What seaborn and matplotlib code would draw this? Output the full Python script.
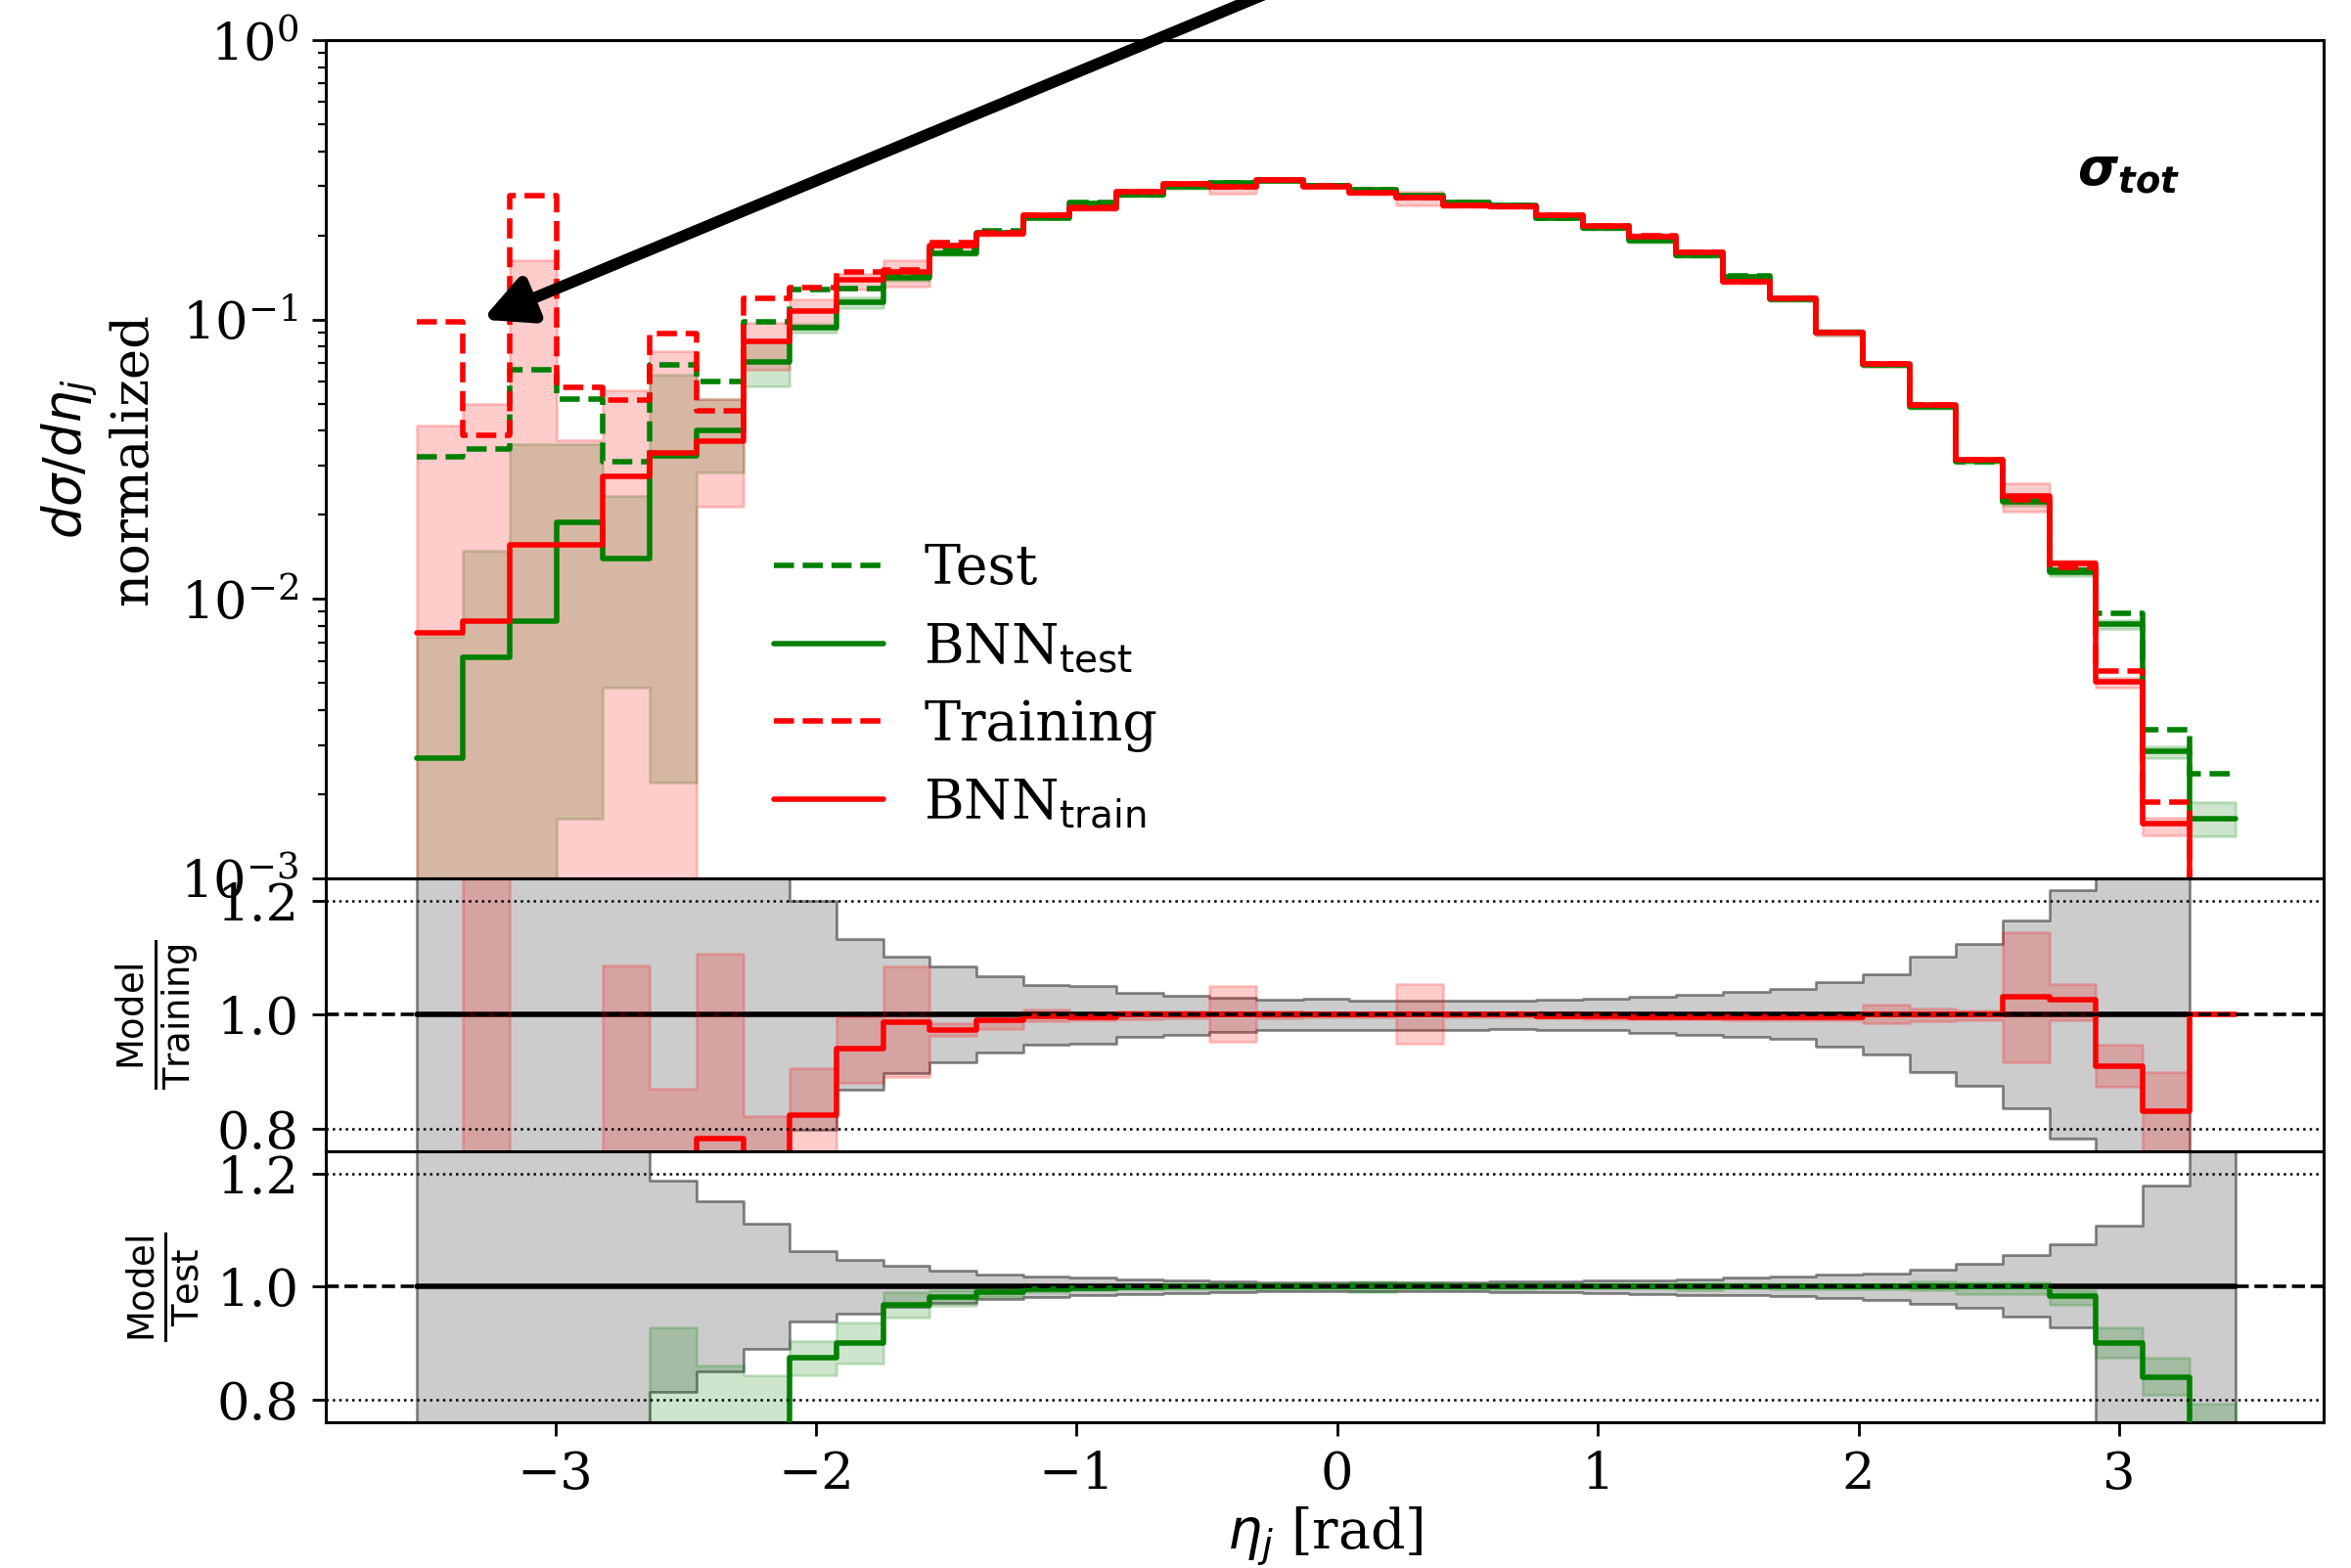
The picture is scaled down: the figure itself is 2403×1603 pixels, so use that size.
import numpy as np
import pandas as pd
import seaborn as sns
import matplotlib.pyplot as plt
from matplotlib.lines import Line2D

# eta_j binning: 39 bins
eta_lo, eta_hi, n_bins = -3.532, 3.448, 39
edges = np.linspace(eta_lo, eta_hi, n_bins + 1)

# ---- top panel: normalized distributions (1e-5 = empty / below axis)
test = [0.0323, 0.0345, 0.066, 0.052, 0.031, 0.069, 0.060, 0.098,
        0.128, 0.129, 0.144, 0.178, 0.208, 0.233, 0.262, 0.281,
        0.300, 0.308, 0.315, 0.302, 0.291, 0.278, 0.262, 0.257,
        0.231, 0.213, 0.193, 0.170, 0.143, 0.119, 0.090, 0.069,
        0.049, 0.031, 0.0224, 0.0127, 0.0089, 0.0034, 0.00237]
bnn_test = [0.0027, 0.0062, 0.0083, 0.0188, 0.0140, 0.0325, 0.040, 0.0708,
            0.0933, 0.115, 0.1415, 0.173, 0.205, 0.231, 0.261, 0.279,
            0.298, 0.308, 0.314, 0.302, 0.291, 0.277, 0.262, 0.256,
            0.231, 0.213, 0.192, 0.170, 0.1427, 0.1185, 0.090, 0.069,
            0.0488, 0.0312, 0.0222, 0.0125, 0.0081, 0.00286, 0.00164]
bnn_test_lo = [1e-5, 1e-5, 1e-5, 0.00164, 0.0048, 0.0022, 0.0284, 0.0578,
               0.090, 0.110, 0.138, 0.170, 0.202, 0.228, 0.257, 0.275,
               0.294, 0.304, 0.310, 0.298, 0.287, 0.273, 0.258, 0.252,
               0.228, 0.210, 0.189, 0.167, 0.140, 0.116, 0.088, 0.068,
               0.0478, 0.0305, 0.0215, 0.0121, 0.0078, 0.0027, 0.00141]
bnn_test_hi = [0.0073, 0.0149, 0.0357, 0.0358, 0.0234, 0.0636, 0.052, 0.0833,
               0.0966, 0.120, 0.145, 0.176, 0.208, 0.234, 0.265, 0.283,
               0.302, 0.312, 0.318, 0.306, 0.295, 0.281, 0.266, 0.260,
               0.234, 0.216, 0.195, 0.173, 0.145, 0.121, 0.092, 0.070,
               0.0498, 0.0319, 0.0229, 0.0129, 0.0084, 0.00298, 0.00188]
training = [0.098, 0.0384, 0.277, 0.057, 0.0513, 0.089, 0.047, 0.1195,
            0.1305, 0.148, 0.150, 0.189, 0.2046, 0.237, 0.2515, 0.286,
            0.306, 0.298, 0.317, 0.300, 0.284, 0.2725, 0.257, 0.255,
            0.237, 0.216, 0.199, 0.174, 0.137, 0.1195, 0.090, 0.0692,
            0.0495, 0.0315, 0.0226, 0.0130, 0.00554, 0.00188, 1e-5]
bnn_train = [0.00755, 0.0083, 0.0156, 0.0156, 0.0274, 0.0334, 0.0368, 0.0832,
             0.1074, 0.139, 0.148, 0.184, 0.2028, 0.237, 0.250, 0.286,
             0.306, 0.298, 0.317, 0.2995, 0.284, 0.2725, 0.257, 0.255,
             0.236, 0.2155, 0.198, 0.174, 0.1367, 0.119, 0.0897, 0.0692,
             0.0495, 0.0315, 0.0233, 0.01335, 0.00504, 0.00157, 1e-5]
bnn_train_lo = [1e-5, 1e-5, 1e-5, 1e-5, 1e-5, 1e-5, 0.0214, 0.0662,
                0.095, 0.128, 0.131, 0.179, 0.199, 0.233, 0.247, 0.281,
                0.301, 0.2825, 0.312, 0.295, 0.279, 0.257, 0.253, 0.251,
                0.232, 0.212, 0.195, 0.171, 0.134, 0.117, 0.088, 0.068,
                0.0487, 0.031, 0.0206, 0.0129, 0.0048, 0.00142, 1e-5]
bnn_train_hi = [0.0419, 0.0497, 0.163, 0.0371, 0.0559, 0.0771, 0.052, 0.0977,
                0.118, 0.146, 0.163, 0.187, 0.207, 0.241, 0.255, 0.291,
                0.311, 0.312, 0.322, 0.304, 0.289, 0.286, 0.261, 0.259,
                0.240, 0.219, 0.202, 0.177, 0.139, 0.121, 0.0915, 0.0705,
                0.0503, 0.032, 0.0259, 0.0137, 0.0052, 0.00165, 1e-5]

# ---- middle panel: Model / Training (0.5 / 1.5 = outside the panel)
ratio_train = [0.5, 0.5, 0.5, 0.5, 0.5, 0.5, 0.7825, 0.5,
               0.824, 0.940, 0.9875, 0.974, 0.991, 0.998, 0.995, 1.0,
               1.0, 1.0, 1.0, 1.0, 1.0, 1.0, 1.0, 1.0,
               0.998, 0.998, 0.996, 0.996, 0.996, 0.996, 0.996, 1.0,
               1.0, 1.0, 1.031, 1.026, 0.909, 0.830, 1.0]
ratio_train_lo = [0.5, 0.5, 0.5, 0.5, 0.5, 0.5, 0.5, 0.5,
                  0.5, 0.881, 0.890, 0.963, 0.975, 0.989, 0.990, 0.993,
                  0.994, 0.952, 0.994, 0.995, 0.995, 0.949, 0.995, 0.995,
                  0.994, 0.993, 0.992, 0.992, 0.991, 0.990, 0.990, 0.985,
                  0.988, 0.990, 0.916, 0.990, 0.873, 0.5, 0.5]
ratio_train_hi = [0.5, 1.5, 0.5, 0.5, 1.087, 0.8695, 1.107, 0.8214,
                  0.906, 0.997, 1.085, 0.9857, 0.989, 1.010, 1.003, 1.006,
                  1.006, 1.0506, 1.006, 1.005, 1.005, 1.054, 1.005, 1.005,
                  1.004, 1.004, 1.002, 1.002, 1.002, 1.001, 1.001, 1.018,
                  1.011, 1.007, 1.146, 1.054, 0.947, 0.899, 0.5]
stat_train_lo = [0.5, 0.5, 0.5, 0.5, 0.5, 0.5, 0.5, 0.5,
                 0.798, 0.868, 0.898, 0.916, 0.933, 0.947, 0.950, 0.9616,
                 0.9645, 0.970, 0.974, 0.974, 0.974, 0.974, 0.974, 0.975,
                 0.974, 0.973, 0.9685, 0.9645, 0.9616, 0.957, 0.944, 0.930,
                 0.899, 0.875, 0.835, 0.7825, 0.5, 0.5, 0.5]
stat_train_hi = [1.5, 1.5, 1.5, 1.5, 1.5, 1.5, 1.5, 1.5,
                 1.201, 1.134, 1.102, 1.085, 1.068, 1.053, 1.0506, 1.038,
                 1.034, 1.0305, 1.026, 1.0275, 1.025, 1.025, 1.025, 1.025,
                 1.026, 1.029, 1.0316, 1.036, 1.040, 1.046, 1.0575, 1.072,
                 1.1015, 1.125, 1.166, 1.219, 1.5, 1.5, 0.5]

# ---- bottom panel: Model / Test
ratio_test = [0.5, 0.5, 0.5, 0.5, 0.5, 0.5, 0.5, 0.5,
              0.874, 0.9005, 0.9678, 0.982, 0.9907, 0.995, 0.997, 0.999,
              1.0, 1.0, 1.0, 1.0, 1.0, 1.0, 1.0, 1.0,
              1.0, 1.0, 1.0, 1.0, 1.0, 1.0, 1.0, 1.0,
              1.0, 1.0, 1.0, 0.983, 0.901, 0.840, 0.5]
ratio_test_lo = [0.5, 0.5, 0.5, 0.5, 0.5, 0.5, 0.5, 0.5,
                 0.843, 0.864, 0.945, 0.966, 0.982, 0.990, 0.993, 0.995,
                 0.996, 0.996, 0.996, 0.995, 0.990, 0.995, 0.996, 0.996,
                 0.997, 0.997, 0.997, 0.994, 0.997, 0.996, 0.996, 0.996,
                 0.993, 0.987, 0.987, 0.967, 0.875, 0.809, 0.5]
ratio_test_hi = [0.5, 0.5, 0.5, 0.5, 0.5, 0.9275, 0.861, 0.843,
                 0.9034, 0.937, 0.991, 0.994, 0.996, 1.0, 1.001, 1.003,
                 1.004, 1.004, 1.004, 1.005, 1.010, 1.007, 1.004, 1.005,
                 1.003, 1.003, 1.003, 1.006, 1.003, 1.002, 1.002, 1.004,
                 1.010, 1.008, 1.008, 0.993, 0.9275, 0.875, 0.7925]
stat_test_lo = [0.5, 0.5, 0.5, 0.5, 0.5, 0.814, 0.850, 0.890,
                0.938, 0.953, 0.965, 0.972, 0.978, 0.982, 0.985, 0.987,
                0.989, 0.990, 0.9915, 0.992, 0.992, 0.992, 0.992, 0.991,
                0.990, 0.989, 0.987, 0.986, 0.985, 0.983, 0.980, 0.977,
                0.970, 0.962, 0.947, 0.9275, 0.5, 0.5, 0.5]
stat_test_hi = [1.5, 1.5, 1.5, 1.5, 1.5, 1.188, 1.1517, 1.111,
                1.064, 1.048, 1.0367, 1.028, 1.0224, 1.018, 1.0155, 1.0126,
                1.011, 1.009, 1.0075, 1.0075, 1.0075, 1.0075, 1.008, 1.009,
                1.010, 1.011, 1.012, 1.0135, 1.0155, 1.018, 1.021, 1.023,
                1.0297, 1.041, 1.056, 1.0758, 1.1087, 1.179, 1.5]

n_train_bins = 38  # last bin empty in training sample

sns.set_style("ticks")
plt.rcParams['font.family'] = 'serif'
plt.rcParams['font.serif'] = ['DejaVu Serif']
plt.rcParams['mathtext.fontset'] = 'dejavusans'
for k in ['axes.edgecolor', 'xtick.color', 'ytick.color', 'text.color', 'axes.labelcolor']:
    plt.rcParams[k] = 'black'
plt.rcParams['axes.linewidth'] = 1.1

LW = 2.0


def ext(v):
    v = np.asarray(v, dtype=float)
    return np.append(v, v[-1])


def step_line(ax, vals, color, ls='-', lw=LW, z=3, x=edges):
    df = pd.DataFrame({'eta': x, 'val': ext(vals)})
    sns.lineplot(data=df, x='eta', y='val', ax=ax, color=color, linestyle=ls,
                 lw=lw, drawstyle='steps-post', estimator=None, sort=False,
                 legend=False, zorder=z)


def band(ax, lo, hi, **kw):
    ax.fill_between(edges, ext(lo), ext(hi), step='post', **kw)


fig = plt.figure(figsize=(12.015, 8.015), dpi=200)
gs = fig.add_gridspec(3, 1, height_ratios=[857, 279, 277], hspace=0,
                      left=0.1386, right=0.9884, top=0.9744, bottom=0.093)
ax0 = fig.add_subplot(gs[0])
ax1 = fig.add_subplot(gs[1], sharex=ax0)
ax2 = fig.add_subplot(gs[2], sharex=ax0)

# top panel
ax0.set_yscale('log')
band(ax0, bnn_test_lo, bnn_test_hi, color='green', alpha=0.2)
band(ax0, bnn_train_lo, bnn_train_hi, color='red', alpha=0.2)
step_line(ax0, test, 'green', '--')
step_line(ax0, bnn_test, 'green', '-')
step_line(ax0, training, 'red', '--')
step_line(ax0, bnn_train, 'red', '-')
ax0.set_ylim(1e-3, 1e0)
ax0.set_ylabel('$d\\sigma/d\\eta_j$\nnormalized', fontsize=19)
ax0.yaxis.set_label_coords(-0.084, 0.5)
ax0.text(0.9025, 0.8426, r'$\mathbfit{\sigma_{tot}}$', transform=ax0.transAxes,
         fontsize=19, ha='center', va='center')
ax0.annotate('', xy=(-3.28, 0.1), xytext=(-0.27, 1.47), annotation_clip=False,
             arrowprops=dict(arrowstyle='-|>', lw=4.2, color='black',
                             mutation_scale=36, shrinkA=0, shrinkB=0))
handles = [Line2D([], [], color='green', ls='--', lw=LW),
           Line2D([], [], color='green', ls='-', lw=LW),
           Line2D([], [], color='red', ls='--', lw=LW),
           Line2D([], [], color='red', ls='-', lw=LW)]
labels = ['Test', r'BNN$_{\mathsf{test}}$', 'Training', r'BNN$_{\mathsf{train}}$']
ax0.legend(handles, labels, loc='upper left', bbox_to_anchor=(0.2, 0.459),
           frameon=False, fontsize=20, handlelength=2.0, handletextpad=0.75,
           labelspacing=0.45)

# middle panel
band(ax1, stat_train_lo, stat_train_hi, facecolor=(0, 0, 0, 0.2),
     edgecolor=(0, 0, 0, 0.45), lw=1.0, zorder=1)
step_line(ax1, np.ones(n_train_bins), 'black', '-', z=2, x=edges[:n_train_bins + 1])
band(ax1, ratio_train_lo, ratio_train_hi, color='red', alpha=0.2, zorder=2.5)
step_line(ax1, ratio_train, 'red', '-', z=3)
ax1.set_ylabel(r'$\frac{\mathrm{Model}}{\mathrm{Training}}$', fontsize=19)
ax1.yaxis.set_label_coords(-0.062, 0.5)

# bottom panel
band(ax2, stat_test_lo, stat_test_hi, facecolor=(0, 0, 0, 0.2),
     edgecolor=(0, 0, 0, 0.45), lw=1.0, zorder=1)
step_line(ax2, np.ones(n_bins), 'black', '-', z=2)
band(ax2, ratio_test_lo, ratio_test_hi, color='green', alpha=0.2, zorder=2.5)
step_line(ax2, ratio_test, 'green', '-', z=3)
ax2.set_ylabel(r'$\frac{\mathrm{Model}}{\mathrm{Test}}$', fontsize=19)
ax2.yaxis.set_label_coords(-0.062, 0.5)

for ax in (ax1, ax2):
    ax.set_ylim(0.76, 1.24)
    ax.set_yticks([0.8, 1.0, 1.2])
    ax.set_yticklabels(['0.8', '1.0', '1.2'])
    ax.axhline(1.0, color='black', ls='--', lw=1.3, zorder=4)
    ax.axhline(0.8, color='black', ls=':', lw=0.9, zorder=4)
    ax.axhline(1.2, color='black', ls=':', lw=0.9, zorder=4)

for ax in (ax0, ax1, ax2):
    ax.tick_params(axis='y', labelsize=19, length=5, width=1.0, pad=5)
    ax.tick_params(axis='y', which='minor', length=3, width=0.8)
    ax.set_xlabel('')
for ax in (ax0, ax1):
    ax.tick_params(axis='x', which='both', bottom=False, labelbottom=False)

ax2.set_xlim(-3.88, 3.785)
ax2.set_xticks([-3, -2, -1, 0, 1, 2, 3])
ax2.tick_params(axis='x', labelsize=19, length=5, width=1.0, pad=5)
ax2.set_xlabel(r'$\eta_j$ [rad]', fontsize=20, labelpad=2)

fig.savefig('out.png', dpi=200)
